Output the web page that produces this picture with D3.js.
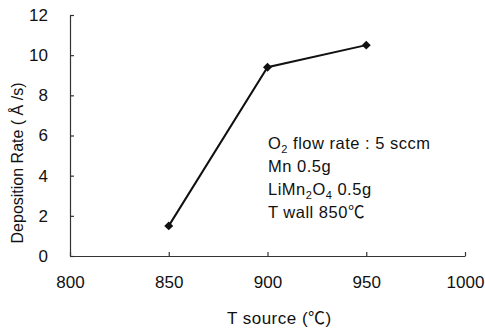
<!DOCTYPE html>
<html>
<head>
<meta charset="utf-8">
<script src="https://cdn.jsdelivr.net/npm/d3@7"></script>
<style>
  body { margin: 0; background: #fff; }
  text { font-family: "Liberation Sans", Arial, "Noto Sans CJK JP", sans-serif; fill: #111; }
</style>
</head>
<body>
<div id="chart"></div>
<script>
const tSource = [850, 900, 950];
const depRate = [1.5, 9.4, 10.5];
const xTicks = [800, 850, 900, 950, 1000];
const yTicks = [0, 2, 4, 6, 8, 10, 12];
const notes = ["O|2| flow rate : 5 sccm", "Mn 0.5g", "LiMn|2|O|4| 0.5g", "T wall 850℃"];

const W = 485, H = 330;
const margin = {top: 15, right: 20, bottom: 74, left: 70};
const width = W - margin.left - margin.right;
const height = H - margin.top - margin.bottom;

const svg = d3.select("#chart")
    .append("svg")
    .attr("width", W)
    .attr("height", H)
    .append("g")
    .attr("transform", `translate(${margin.left}, ${margin.top})`);

const x = d3.scaleLinear().domain([800, 1000]).range([0, 395]);
const y = d3.scaleLinear().domain([0, 12]).range([height, 0]);

// X axis, ticks inward
const gx = svg.append("g")
    .attr("transform", `translate(0, ${height})`)
    .call(d3.axisBottom(x).tickValues(xTicks).tickFormat(d3.format("d")).tickSize(-4).tickPadding(20).tickSizeOuter(0));
gx.selectAll("text").style("font-size", "17px");

// Y axis, ticks inward
const gy = svg.append("g")
    .call(d3.axisLeft(y).tickValues(yTicks).tickSize(-4).tickPadding(22).tickSizeOuter(0));
gy.selectAll("text").style("font-size", "17px");

svg.selectAll(".domain, .tick line").attr("stroke", "#333").attr("stroke-width", 1.2);

// labels
svg.append("text")
    .attr("text-anchor", "middle")
    .attr("x", x(906))
    .attr("y", height + 68)
    .style("font-size", "17px")
    .style("letter-spacing", "0.5px")
    .text("T source (℃)");

svg.append("text")
    .attr("text-anchor", "middle")
    .attr("transform", `translate(${-47}, ${148}) rotate(-90)`)
    .style("font-size", "16px")
    .text("Deposition Rate ( Å /s)");

// line + markers
const pts = tSource.map((t, i) => ({t: t, v: depRate[i]}));
const line = d3.line().x(d => x(d.t)).y(d => y(d.v));

svg.append("path")
    .datum(pts)
    .attr("fill", "none")
    .attr("stroke", "#111")
    .attr("stroke-width", 2)
    .attr("d", line);

// diamonds: squares turned 45 degrees
svg.selectAll("mymarkers")
    .data(pts)
    .join("path")
    .attr("transform", d => `translate(${x(d.t)}, ${y(d.v)}) rotate(45)`)
    .attr("d", d3.symbol(d3.symbolSquare, 40))
    .attr("fill", "#111");

// annotation block
const note = svg.append("text")
    .attr("x", 198)
    .attr("y", 134)
    .style("font-size", "16.5px")
    .style("letter-spacing", "0.5px");
notes.forEach((s, i) => {
  const t = note.append("tspan").attr("x", 198).attr("y", 134 + i * 23);
  s.split("|").forEach((part, j) => {
    const sp = t.append("tspan").text(part);
    if (j % 2 == 1) sp.attr("dy", 4).style("font-size", "11px");
    else if (j > 0) sp.attr("dy", -4);
  });
});
</script>
</body>
</html>
